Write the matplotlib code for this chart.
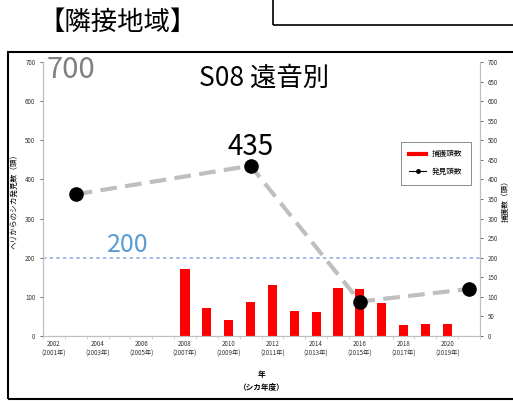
import matplotlib
matplotlib.use("Agg")
import matplotlib.pyplot as plt
from matplotlib.patches import Rectangle
from matplotlib.lines import Line2D
from matplotlib.ticker import MultipleLocator

plt.rcParams['font.family'] = ['Noto Sans CJK JP', 'DejaVu Sans']

# ---- data ----
bar_years = [2008, 2009, 2010, 2011, 2012, 2013, 2014, 2015, 2016, 2017, 2018, 2019, 2020]
capture = [172, 72, 42, 88, 130, 65, 62, 122, 120, 85, 27, 30, 30]
sight_years = [2003, 2011, 2016, 2021]
sighted = [362, 435, 88, 120]
tick_years = [2002, 2004, 2006, 2008, 2010, 2012, 2014, 2016, 2018, 2020]
tick_labels = [f"{y}\n({y-1}年)" for y in tick_years]
threshold = 200

W, H = 513, 401
fig = plt.figure(figsize=(W/100, H/100), dpi=100)

def fx(px): return px / W
def fy(py): return 1 - py / H

ax = fig.add_axes([fx(43), fy(336), fx(480) - fx(43), fy(62) - fy(336)])
ax2 = ax.twinx()

ax.set_xlim(2001.5, 2021.5)
ax.set_ylim(0, 700)
ax2.set_ylim(0, 700)

ax2.bar(bar_years, capture, width=0.42, color='#FF0000', zorder=2)
ax.axhline(threshold, color='#8DB4E2', lw=1.2, ls=(0, (2, 2)), zorder=1)
ax.plot(sight_years, sighted, color='#BFBFBF', lw=3, ls=(0, (4, 2)), zorder=3)
ax.plot(sight_years, sighted, ls='none', marker='o', ms=9.5, color='black', zorder=4)
ax.set_zorder(ax2.get_zorder() + 1)
ax.patch.set_visible(False)

for a in (ax, ax2):
    for s in ['top']:
        a.spines[s].set_visible(False)
    for s in ['left', 'right', 'bottom']:
        a.spines[s].set_color('#BFBFBF')
        a.spines[s].set_linewidth(0.8)
    a.tick_params(labelsize=4.5, colors='#333333', length=2, width=0.5)

ax.yaxis.set_major_locator(MultipleLocator(100))
ax2.yaxis.set_major_locator(MultipleLocator(50))
ax.set_xticks(tick_years)
ax.set_xticklabels(tick_labels, fontsize=4.5)
ax.tick_params(axis='x', length=0, pad=3)
ax.set_xticks([y + 0.5 for y in range(2001, 2022)], minor=True)
ax.tick_params(axis='x', which='minor', length=2, width=0.5, color='#BFBFBF')

ax.set_ylabel('ヘリからのシカ発見数（頭）', fontsize=5.5, labelpad=5)
ax2.set_ylabel('捕獲数（頭）', fontsize=5.5, labelpad=3, rotation=90)
ax.set_xlabel('年\n（シカ年度）', fontsize=5.5, fontweight='bold', labelpad=9,
              linespacing=1.6)

# annotations
fig.text(fx(47), fy(70), '700', fontsize=21, color='#808080', ha='left', va='center')
fig.text(fx(264), fy(78), 'S08 遠音別', fontsize=19, color='black', ha='center', va='center')
fig.text(fx(251), fy(147), '435', fontsize=20, color='black', ha='center', va='center')
fig.text(fx(128), fy(245), '200', fontsize=18, color='#5B9BD5', ha='center', va='center')

# legend
handles = [Line2D([], [], color='#FF0000', lw=3),
           Line2D([], [], color='black', lw=0.8, marker='o', ms=2.5)]
leg = fig.legend(handles, ['捕獲頭数', '発見頭数'], loc='upper left',
                 bbox_to_anchor=(fx(397), fy(138)), fontsize=5.5, frameon=True,
                 fancybox=False, edgecolor='#555555', handlelength=2.2,
                 borderpad=1.1, labelspacing=1.3)
leg.get_frame().set_linewidth(0.6)

# page title and frames
fig.text(fx(38), fy(22), '【隣接地域】', fontsize=19, color='black', ha='left', va='center')
fig.add_artist(Rectangle((fx(8), fy(399)), fx(520) - fx(8), fy(52) - fy(399),
                         transform=fig.transFigure, fill=False, ec='black', lw=1.5))
fig.add_artist(Rectangle((fx(273), fy(25)), fx(530) - fx(273), fy(-10) - fy(25),
                         transform=fig.transFigure, fill=False, ec='black', lw=1.2))

fig.savefig('out.png', dpi=100)
